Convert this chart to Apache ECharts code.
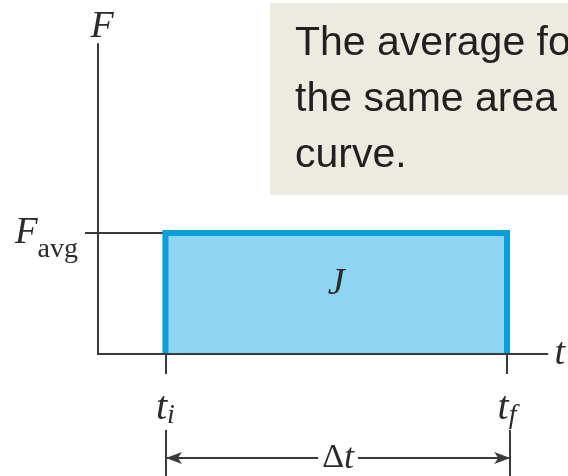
<!DOCTYPE html>
<html>
<head>
<meta charset="utf-8">
<script src="https://cdn.jsdelivr.net/npm/echarts@6/dist/echarts.min.js"></script>
<style>
  html, body { margin: 0; padding: 0; background: #ffffff; }
  #chart { width: 568px; height: 476px; }
</style>
</head>
<body>
<div id="chart"></div>
<script>
// Impulse diagram: a constant average force acting from t_i to t_f
const timeRange = [0, 100];      // t axis extent
const forceRange = [0, 10];      // F axis extent
const tInitial = 15;             // t_i
const tFinal = 91;               // t_f
const forceAvg = 3.9;            // F_avg
const noteLines = ['The average force gives', 'the same area under the', 'curve.'];

const ink = '#2b2b2b';
const axisInk = '#3a3a3a';
const serif = '"Liberation Serif", "DejaVu Serif", serif';
const sans = '"Liberation Sans", Arial, sans-serif';

const chart = echarts.init(document.getElementById('chart'), null, { renderer: 'canvas' });

const option = {
  backgroundColor: '#ffffff',
  animation: false,
  grid: [
    { left: 98, right: 17, top: 44, bottom: 122, containLabel: false },
    { left: 98, right: 17, top: 430, bottom: 0, containLabel: false }
  ],
  xAxis: [
    {
      gridIndex: 0, type: 'value', min: timeRange[0], max: timeRange[1], z: 10,
      axisLine: { show: true, onZero: false, lineStyle: { color: axisInk, width: 2 } },
      axisTick: { show: false }, axisLabel: { show: false }, splitLine: { show: false },
      name: 't', nameLocation: 'end', nameGap: 7,
      nameTextStyle: { fontFamily: serif, fontStyle: 'italic', fontSize: 38, color: ink, verticalAlign: 'middle' }
    },
    {
      gridIndex: 0, type: 'value', min: timeRange[0], max: timeRange[1], position: 'bottom', offset: 8,
      axisLine: { show: false },
      axisTick: { show: true, customValues: [tInitial, tFinal], length: 20, lineStyle: { color: axisInk, width: 2 } },
      axisLabel: {
        show: true, customValues: [tInitial, tFinal], margin: 24,
        formatter: v => (v === tInitial ? '{t|t}{s|i}' : '{t|t}{s|f}'),
        rich: {
          t: { fontFamily: serif, fontStyle: 'italic', fontSize: 40, color: ink, lineHeight: 40 },
          s: { fontFamily: serif, fontStyle: 'italic', fontSize: 28, color: ink, padding: [16, 0, 0, 0] }
        }
      },
      splitLine: { show: false }
    },
    {
      gridIndex: 1, type: 'value', min: timeRange[0], max: timeRange[1], show: false
    }
  ],
  yAxis: [
    {
      gridIndex: 0, type: 'value', min: forceRange[0], max: forceRange[1],
      axisLine: { show: true, lineStyle: { color: axisInk, width: 2 } },
      axisTick: { show: true, customValues: [forceAvg], length: 13, lineStyle: { color: axisInk, width: 2 } },
      axisLabel: {
        show: true, customValues: [forceAvg], margin: 20,
        formatter: () => '{F|F}{s|avg}',
        rich: {
          F: { fontFamily: serif, fontStyle: 'italic', fontSize: 37, color: ink, lineHeight: 37 },
          s: { fontFamily: serif, fontSize: 28, color: ink, padding: [34, 0, 0, 0] }
        }
      },
      splitLine: { show: false },
      name: 'F', nameLocation: 'end', nameGap: -2,
      nameTextStyle: { fontFamily: serif, fontStyle: 'italic', fontSize: 38, color: ink, align: 'center', padding: [0, 0, 0, 8] }
    },
    { gridIndex: 1, type: 'value', min: 0, max: 1, show: false }
  ],
  series: [
    {
      // leader from the F axis to the rectangle at F_avg
      type: 'line', xAxisIndex: 0, yAxisIndex: 0, symbol: 'none', silent: true,
      data: [[timeRange[0], forceAvg], [tInitial, forceAvg]],
      lineStyle: { color: axisInk, width: 2 }, z: 1
    },
    {
      // the impulse rectangle J = F_avg * Δt
      type: 'line', xAxisIndex: 0, yAxisIndex: 0, symbol: 'none', silent: true,
      data: [[tInitial, 0], [tInitial, forceAvg], [tFinal, forceAvg], [tFinal, 0]],
      lineStyle: { color: '#0a9fdb', width: 6, join: 'miter', cap: 'butt' },
      areaStyle: { color: '#8dd5f1', opacity: 1, origin: 'start' },
      z: 3,
      markPoint: {
        symbol: 'circle', symbolSize: 0, silent: true,
        label: { show: true, position: 'inside', formatter: 'J', fontFamily: serif, fontStyle: 'italic', fontSize: 38, color: ink },
        data: [{ coord: [(tInitial + tFinal) / 2, forceAvg * 0.58] }]
      }
    },
    {
      // Δt dimension line below the plot
      type: 'line', xAxisIndex: 2, yAxisIndex: 1, symbol: 'none', silent: true, data: [],
      markLine: {
        silent: true, symbol: 'none',
        lineStyle: { color: axisInk, width: 2, type: 'solid' },
        label: { show: false },
        data: [{ xAxis: tInitial }, { xAxis: tFinal }]
      }
    },
    {
      type: 'line', xAxisIndex: 2, yAxisIndex: 1, symbol: 'none', silent: true, data: [],
      markLine: {
        silent: true, symbol: ['arrow', 'arrow'], symbolSize: [9, 16],
        lineStyle: { color: axisInk, width: 2, type: 'solid' },
        label: {
          show: true, position: 'middle', distance: 0, verticalAlign: 'middle',
          formatter: '{d|Δ}{t|t}',
          backgroundColor: '#ffffff', padding: [0, 4, 0, 4],
          rich: {
            d: { fontFamily: serif, fontSize: 34, color: ink },
            t: { fontFamily: serif, fontStyle: 'italic', fontSize: 36, color: ink }
          }
        },
        data: [[{ coord: [tInitial, 0.39] }, { coord: [tFinal, 0.39] }]]
      }
    }
  ],
  graphic: [
    {
      type: 'group', left: 270, top: 3,
      children: [
        { type: 'rect', shape: { x: 0, y: 0, width: 320, height: 192 }, style: { fill: '#ecebe0' } },
        ...noteLines.map((line, i) => ({
          type: 'text', x: 25, y: 41 + i * 56,
          style: { text: line, fontFamily: sans, fontSize: 41, fill: '#231f20', textVerticalAlign: 'middle' }
        }))
      ]
    }
  ]
};

chart.setOption(option);
</script>
</body>
</html>
